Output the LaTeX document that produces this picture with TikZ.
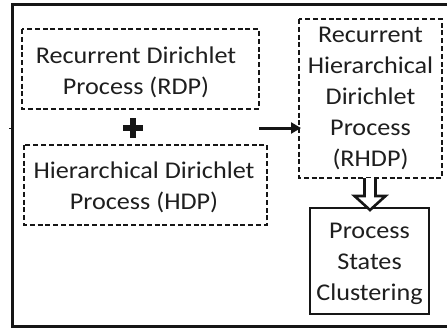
\documentclass[tikz,border=0pt]{standalone}
\usepackage{fontspec}
\setmainfont{Carlito}[FakeStretch=1.09]
\usetikzlibrary{arrows.meta}
\definecolor{ink}{HTML}{161616}
\definecolor{txt}{HTML}{1E1E1E}
\tikzset{
  dashbox/.style={draw=ink, line width=1.8pt, dash pattern=on 5pt off 2.8pt},
  solidbox/.style={draw=ink, line width=1.6pt},
  lbl/.style={text=txt, font=\fontsize{24}{31}\selectfont, align=center, inner sep=0pt},
}
\begin{document}
\begin{tikzpicture}[x=1pt,y=-1pt]
  \useasboundingbox (0,0) rectangle (447,330);
  % outer frame, open on the right
  \draw[ink, line width=3.4pt] (447,4.7) -- (12.5,4.7) -- (12.5,326.3) -- (447,326.3);
  \draw[ink, line width=1pt] (9,128) -- (12,128);

  % boxes
  \draw[dashbox] (22,29) rectangle (259,109);
  \node[lbl] (rdp) at (136,72) {Recurrent Dirichlet\\Process (RDP)};
  \draw[dashbox] (24,145) rectangle (267,225);
  \node[lbl] (hdp) at (144,187.5) {Hierarchical Dirichlet\\Process (HDP)};
  \draw[dashbox] (299,19) rectangle (442,178);
  \node[lbl] (rhdp) at (370.5,98) {Recurrent\\Hierarchical\\Dirichlet\\Process\\(RHDP)};
  \draw[solidbox] (310,208) rectangle (429,314);
  \node[lbl] (psc) at (369.5,264) {Process\\States\\Clustering};

  % plus sign between the two source boxes
  \coordinate (plus) at (133,128);
  \fill[ink] ([xshift=-10pt,yshift=-3.2pt]plus) rectangle ([xshift=10pt,yshift=3.2pt]plus);
  \fill[ink] ([xshift=-3.2pt,yshift=-10pt]plus) rectangle ([xshift=3.2pt,yshift=10pt]plus);

  % arrow into RHDP
  \coordinate (a0) at (259,128);
  \coordinate (a1) at (301,128);
  \draw[ink, line width=3pt, -{Triangle[length=10pt,width=11pt]}] (a0) -- (a1);

  % hollow block arrow from RHDP to clustering
  \coordinate (h0) at (370,178);
  \draw[ink, line width=2.6pt, fill=white, line join=miter]
    ([xshift=-5.5pt]h0) -- ++(0,18) -- ++(-10,0) -- (370,210) -- (385.5,196) -- ++(-10,0) -- ++(0,-18);
\end{tikzpicture}
\end{document}
